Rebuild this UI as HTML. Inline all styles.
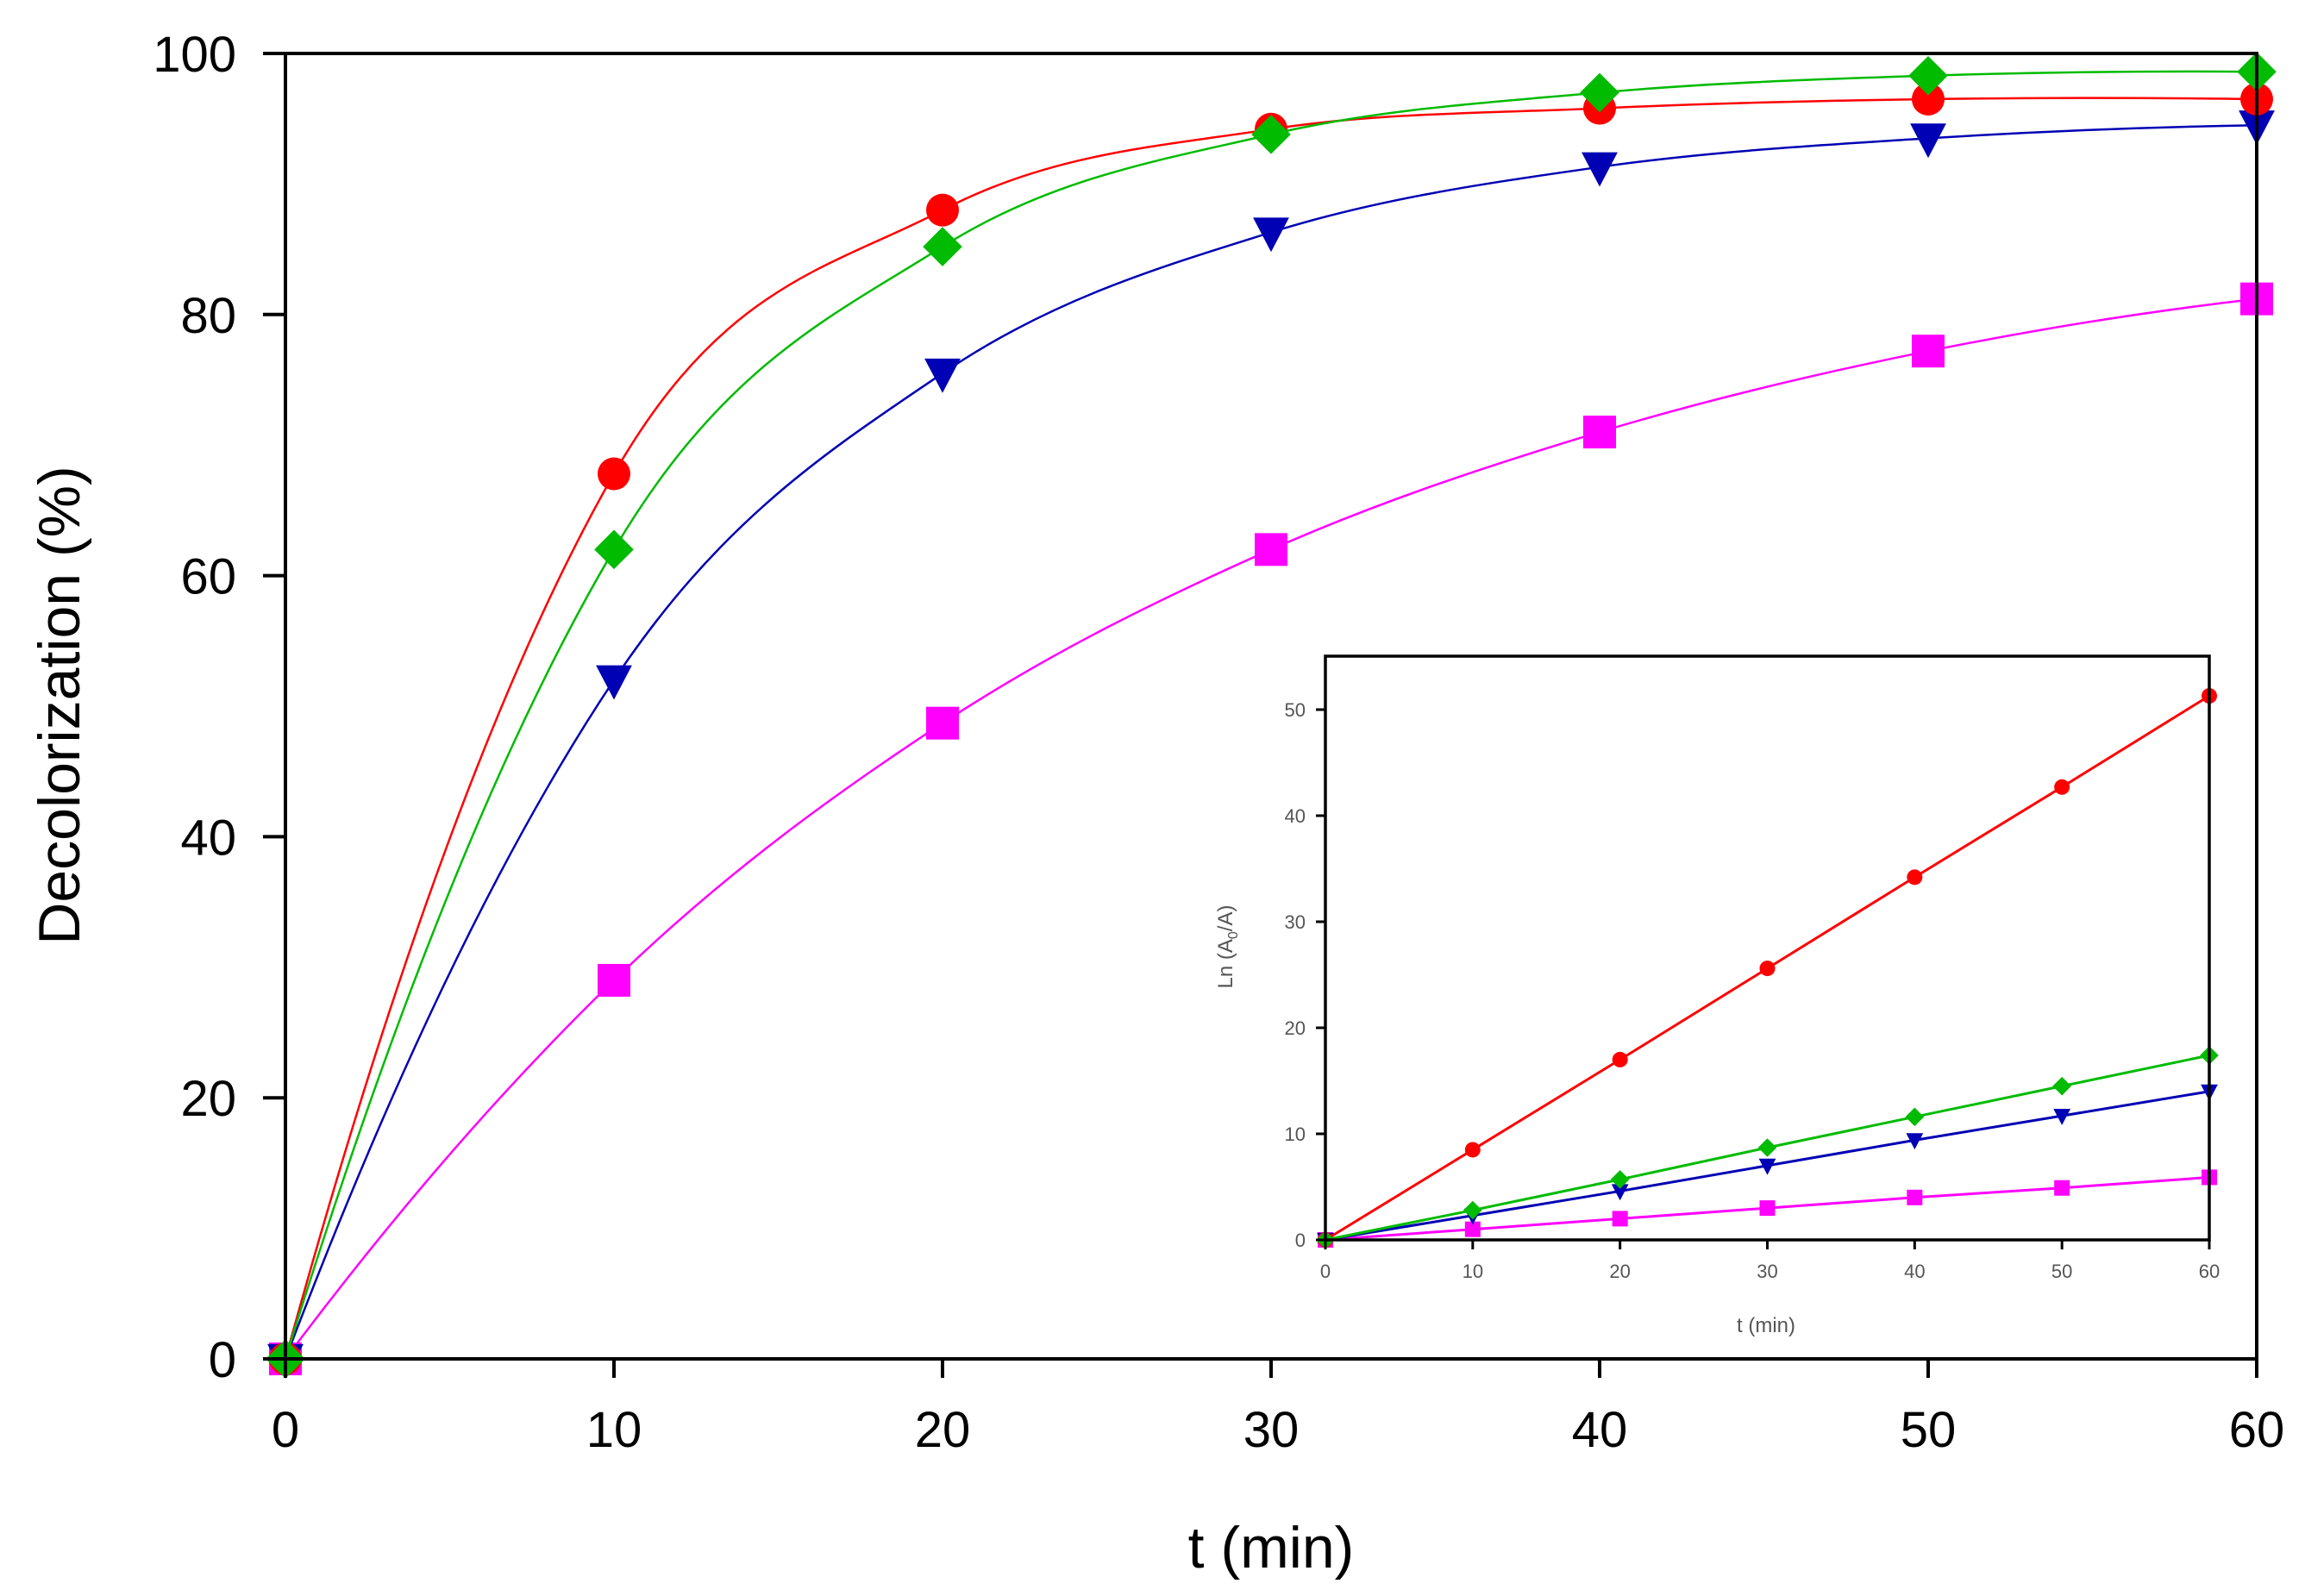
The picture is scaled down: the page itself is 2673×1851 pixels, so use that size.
<!DOCTYPE html>
<html><head><meta charset="utf-8"><style>
html,body{margin:0;padding:0;background:#fff}
svg{display:block}
text{font-family:"Liberation Sans",Arial,sans-serif}
</style></head><body>
<svg id="chart" width="2673" height="1851" viewBox="0 0 2673 1851" xmlns="http://www.w3.org/2000/svg">
<g id="main"></g>
<g id="inset"></g>
</svg>
<script>
const times = [0, 10, 20, 30, 40, 50, 60];
const redVals = [0, 67.8, 88, 94.2, 95.8, 96.5, 96.5];
const greenVals = [0, 62, 85.2, 93.8, 97, 98.3, 98.6];
const blueVals = [0, 52, 75.5, 86.3, 91.3, 93.5, 94.5];
const magentaVals = [0, 29, 48.7, 62, 71, 77.2, 81.2];
const insetRed = [0, 8.5, 17, 25.6, 34.2, 42.7, 51.3];
const insetGreen = [0, 2.8, 5.7, 8.7, 11.6, 14.5, 17.4];
const insetBlue = [0, 2.3, 4.6, 7, 9.4, 11.7, 14];
const insetMagenta = [0, 1, 2, 3, 4, 4.9, 5.9];
const xTicks = [0, 10, 20, 30, 40, 50, 60];
const yTicks = [0, 20, 40, 60, 80, 100];
const insetYTicks = [0, 10, 20, 30, 40, 50];

const NS = "http://www.w3.org/2000/svg";
function mk(parent, tag, attrs, text) {
  const e = document.createElementNS(NS, tag);
  for (const k in attrs) e.setAttribute(k, attrs[k]);
  if (text !== undefined) e.textContent = text;
  parent.appendChild(e);
  return e;
}
const mx = v => 331 + (v / 60) * (2617 - 331);
const my = v => 1576 - (v / 100) * (1576 - 62);
const ix = v => 1537 + (v / 60) * (2562 - 1537);
const iy = v => 1438 - (v / 50) * (1438 - 823);

// Hermite spline in data space with 3-point derivative estimates
function smoothPath(xs, ys, fx, fy) {
  const n = xs.length;
  const m = [];
  for (let i = 0; i < n; i++) {
    if (i === 0) {
      const h = xs[1] - xs[0];
      m.push((-3 * ys[0] + 4 * ys[1] - ys[2]) / (2 * h));
    } else if (i === n - 1) {
      const h = xs[n - 1] - xs[n - 2];
      m.push((3 * ys[n - 1] - 4 * ys[n - 2] + ys[n - 3]) / (2 * h));
    } else {
      m.push((ys[i + 1] - ys[i - 1]) / (xs[i + 1] - xs[i - 1]));
    }
  }
  let d = `M${fx(xs[0])},${fy(ys[0])}`;
  for (let i = 0; i < n - 1; i++) {
    const h = xs[i + 1] - xs[i];
    const c1x = xs[i] + h / 3, c1y = ys[i] + m[i] * h / 3;
    const c2x = xs[i + 1] - h / 3, c2y = ys[i + 1] - m[i + 1] * h / 3;
    d += ` C${fx(c1x)},${fy(c1y)} ${fx(c2x)},${fy(c2y)} ${fx(xs[i + 1])},${fy(ys[i + 1])}`;
  }
  return d;
}
function marker(g, shape, x, y, s, color) {
  let e;
  if (shape === 'circle') e = mk(g, 'circle', {cx: x, cy: y, r: s * 0.5, fill: color});
  else if (shape === 'square') e = mk(g, 'rect', {x: x - s * 0.5, y: y - s * 0.5, width: s, height: s, fill: color});
  else if (shape === 'diamond') e = mk(g, 'polygon', {points: `${x},${y - s * 0.6} ${x + s * 0.6},${y} ${x},${y + s * 0.6} ${x - s * 0.6},${y}`, fill: color});
  else e = mk(g, 'polygon', {points: `${x - s * 0.55},${y - s * 0.45} ${x + s * 0.55},${y - s * 0.45} ${x},${y + s * 0.6}`, fill: color});
  return e;
}

const main = document.getElementById('main');
const series = [
  {name: 'magenta', vals: magentaVals, ivals: insetMagenta, color: '#ff00ff', shape: 'square'},
  {name: 'blue', vals: blueVals, ivals: insetBlue, color: '#0000b4', shape: 'triangle'},
  {name: 'red', vals: redVals, ivals: insetRed, color: '#ff0000', shape: 'circle'},
  {name: 'green', vals: greenVals, ivals: insetGreen, color: '#00bb00', shape: 'diamond'}
];
series.forEach(s => {
  const g = mk(main, 'g', {});
  
  
  const path = mk(g, 'path', {d: smoothPath(times, s.vals, mx, my), fill: 'none', stroke: s.color, 'stroke-width': 2.5});
  
  
  s.vals.forEach((v, i) => {
    const m = marker(g, s.shape, mx(times[i]), my(v), 38, s.color);
    
    
  });
});
const frame = mk(main, 'rect', {x: 331, y: 62, width: 2617 - 331, height: 1576 - 62, fill: 'none', stroke: '#000', 'stroke-width': 4});


xTicks.forEach(t => {
  const l = mk(main, 'line', {x1: mx(t), x2: mx(t), y1: 1576, y2: 1598, stroke: '#000', 'stroke-width': 4});
  
  
  const tx = mk(main, 'text', {x: mx(t), y: 1678, 'font-size': 58, 'text-anchor': 'middle', fill: '#000'}, String(t));
  
  
});
yTicks.forEach(t => {
  const l = mk(main, 'line', {x1: 305, x2: 331, y1: my(t), y2: my(t), stroke: '#000', 'stroke-width': 4});
  
  
  const tx = mk(main, 'text', {x: 274, y: my(t) + 21, 'font-size': 58, 'text-anchor': 'end', fill: '#000'}, String(t));
  
  
});
const xt = mk(main, 'text', {x: 1474, y: 1818, 'font-size': 68, 'text-anchor': 'middle', fill: '#000'}, 't (min)');


const yt = mk(main, 'text', {x: 0, y: 0, 'font-size': 68, 'text-anchor': 'middle', fill: '#000', transform: 'translate(92,818) rotate(-90)'}, 'Decolorization (%)');



const inset = document.getElementById('inset');
const ibg = mk(inset, 'rect', {x: 1537, y: 761, width: 2562 - 1537, height: 1438 - 761, fill: '#fff'});


series.forEach(s => {
  const g = mk(inset, 'g', {});
  
  
  const pts = times.map((t, i) => `${ix(t)},${iy(s.ivals[i])}`).join(' ');
  const pl = mk(g, 'polyline', {points: pts, fill: 'none', stroke: s.color, 'stroke-width': 3});
  
  
  s.ivals.forEach((v, i) => {
    const m = marker(g, s.shape, ix(times[i]), iy(v), 18, s.color);
    
    
  });
});
const iframe = mk(inset, 'rect', {x: 1537, y: 761, width: 2562 - 1537, height: 1438 - 761, fill: 'none', stroke: '#000', 'stroke-width': 3.5});


xTicks.forEach(t => {
  const l = mk(inset, 'line', {x1: ix(t), x2: ix(t), y1: 1438, y2: 1449, stroke: '#000', 'stroke-width': 3});
  
  
  const tx = mk(inset, 'text', {x: ix(t), y: 1482, 'font-size': 22, 'text-anchor': 'middle', fill: '#555'}, String(t));
  
  
});
insetYTicks.forEach(t => {
  const l = mk(inset, 'line', {x1: 1526, x2: 1537, y1: iy(t), y2: iy(t), stroke: '#000', 'stroke-width': 3});
  
  
  const tx = mk(inset, 'text', {x: 1514, y: iy(t) + 8, 'font-size': 22, 'text-anchor': 'end', fill: '#555'}, String(t));
  
  
});
const ixt = mk(inset, 'text', {x: 2048, y: 1545, 'font-size': 24, 'text-anchor': 'middle', fill: '#555'}, 't (min)');


const iyt = mk(inset, 'text', {x: 0, y: 0, 'font-size': 24, 'text-anchor': 'middle', fill: '#555', transform: 'translate(1429,1098) rotate(-90)'});


iyt.appendChild(document.createTextNode('Ln (A'));
mk(iyt, 'tspan', {'font-size': 16, dy: 6}, '0');
mk(iyt, 'tspan', {dy: -6}, '/A)');
</script>
</body></html>
